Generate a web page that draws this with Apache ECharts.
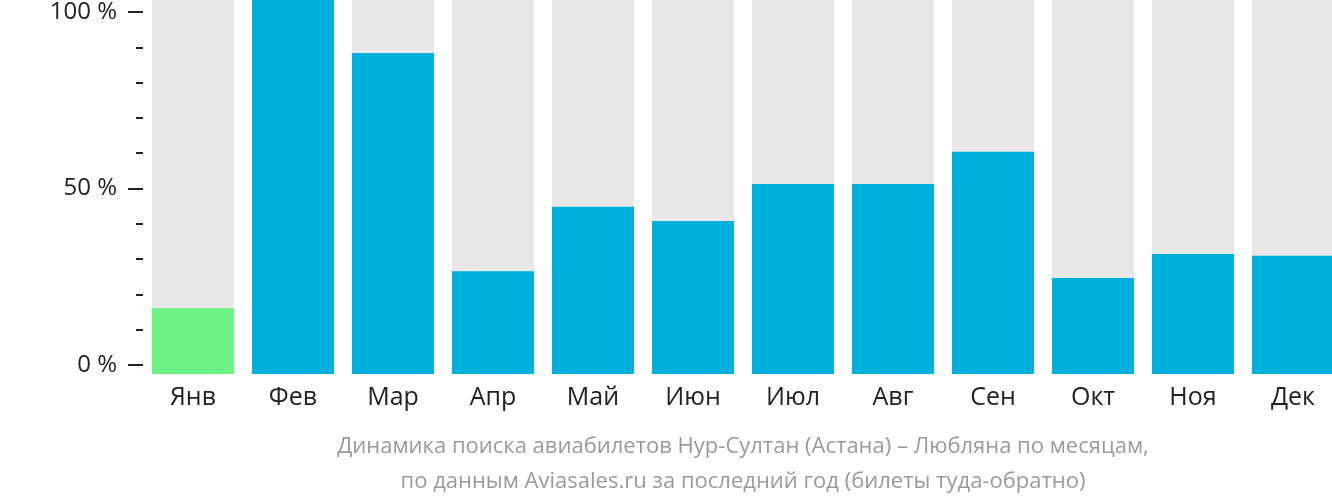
<!DOCTYPE html>
<html>
<head>
<meta charset="utf-8">
<script src="https://cdn.jsdelivr.net/npm/echarts@6/dist/echarts.min.js"></script>
<style>
html,body{margin:0;padding:0;background:#fff;overflow:hidden;}
#c{width:1360px;height:502px;}
</style>
</head>
<body>
<div id="c"></div>
<script>
const months = ['Янв','Фев','Мар','Апр','Май','Июн','Июл','Авг','Сен','Окт','Ноя','Дек'];
const values = [17.6, 100, 85.8, 27.5, 44.7, 40.9, 50.8, 50.8, 59.4, 25.7, 32.1, 31.6];
const yTickLabels = {0: '0 %', 50: '50 %', 100: '100 %'};
const captionLines = [
  'Динамика поиска авиабилетов Нур-Султан (Астана) – Любляна по месяцам,',
  'по данным Aviasales.ru за последний год (билеты туда-обратно)'
];

const minVal = Math.min.apply(null, values);
const chart = echarts.init(document.getElementById('c'), null, {renderer: 'canvas'});
chart.setOption({
  animation: false,
  title: {
    text: captionLines.join('\n'),
    left: 738,
    top: 424,
    textAlign: 'center',
    textStyle: {
      fontFamily: 'Open Sans',
      fontSize: 22,
      fontWeight: 'normal',
      color: '#9a9a9a',
      lineHeight: 35
    }
  },
  grid: [
    {left: 143, width: 1200, top: 9, bottom: 137},
    {left: 143, width: 1200, top: 0, bottom: 128}
  ],
  xAxis: [
    {gridIndex: 0, type: 'category', data: months, show: false},
    {
      gridIndex: 1, type: 'category', data: months,
      axisLine: {show: false}, axisTick: {show: false},
      axisLabel: {
        margin: 11, color: '#222', fontFamily: 'Open Sans', fontSize: 25
      }
    }
  ],
  yAxis: [
    {
      gridIndex: 0, type: 'value', min: 0, max: 100, interval: 50,
      axisLine: {show: false},
      splitLine: {show: false},
      axisTick: {show: true, length: 15, lineStyle: {color: '#222', width: 2}},
      minorTick: {show: true, splitNumber: 5, length: 7, lineStyle: {color: '#222', width: 2}},
      axisLabel: {
        margin: 26, color: '#222', fontFamily: 'Open Sans', fontSize: 24,
        formatter: function (v) { return yTickLabels[v] !== undefined ? yTickLabels[v] : ''; }
      }
    },
    {gridIndex: 1, type: 'value', min: 0, max: 100, show: false}
  ],
  series: [{
    type: 'bar',
    xAxisIndex: 1,
    yAxisIndex: 1,
    barWidth: 82,
    showBackground: true,
    backgroundStyle: {color: '#e8e8e8'},
    data: values.map(function (v) {
      return {value: v, itemStyle: {color: v === minVal ? '#6cf287' : '#00b0dc'}};
    })
  }]
});
</script>
</body>
</html>
